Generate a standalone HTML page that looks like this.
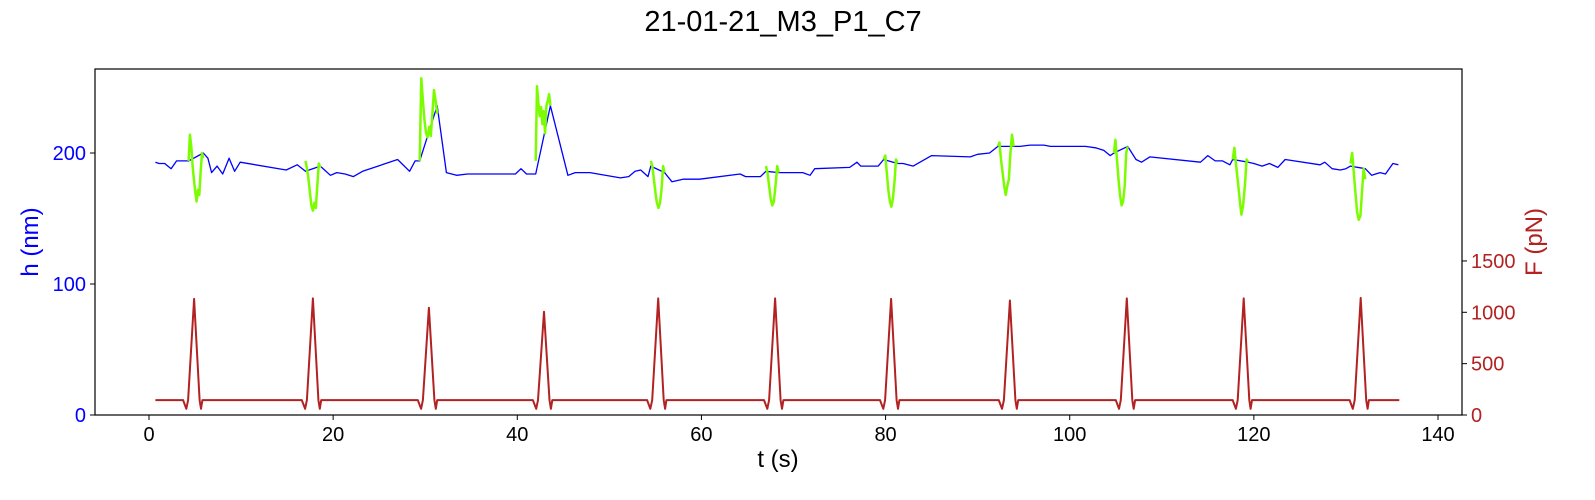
<!DOCTYPE html>
<html><head><meta charset="utf-8"><style>
html,body{margin:0;padding:0;background:#fff;}
svg{display:block;font-family:"Liberation Sans","DejaVu Sans",sans-serif;}
</style></head><body>
<svg id="chart" width="1595" height="500">
<text x="783" y="31" font-size="29" text-anchor="middle">21-01-21_M3_P1_C7</text>
<g id="plot"></g>
<rect x="95" y="69" width="1367" height="346" fill="none" stroke="#000" stroke-width="1.2"/>
<text x="778" y="467" font-size="24" text-anchor="middle">t (s)</text>
<text x="0" y="0" font-size="24" fill="#0000ff" text-anchor="middle" transform="translate(38,242) rotate(-90)">h (nm)</text>
<text x="0" y="0" font-size="24" fill="#b22222" text-anchor="middle" transform="translate(1542,242) rotate(-90)">F (pN)</text>
</svg>
<script>
const xTicks=[0,20,40,60,80,100,120,140];
const hTicks=[0,100,200];
const fTicks=[0,500,1000,1500];
const blueT=[0.7,1.1,1.7,2.4,3.0,4.1,4.3,5.9,6.4,6.8,7.4,8.0,8.7,9.3,9.9,14.9,16.1,17.0,18.6,19.7,20.4,21.3,22.2,23.2,27.0,28.3,28.9,29.4,31.3,32.3,33.4,34.6,39.8,40.4,41.0,42.0,43.6,45.5,46.3,47.9,51.2,52.1,52.8,53.4,54.2,54.5,56.0,56.8,58.0,59.8,64.2,64.8,66.4,67.0,68.4,69.6,71.0,71.8,72.3,76.1,76.9,77.3,79.2,79.8,81.3,81.9,83.0,85.0,89.2,90.0,91.3,92.2,93.9,94.6,95.7,97.2,97.9,101.7,102.8,103.7,104.4,104.8,106.3,107.2,107.8,108.7,114.2,115.0,115.8,116.6,117.4,117.7,119.4,120.0,120.9,121.7,122.6,123.4,127.2,127.7,128.5,129.4,130.0,130.5,132.1,132.8,133.7,134.3,135.1,135.7];
const blueH=[193,192,192,188,194,194,194,200,196,185,190,184,196,186,193,187,191,186,190,183,185,184,182,186,195,186,194,194,236,185,183,184,184,188,184,184,236,183,185,185,181,182,186,187,182,190,185,178,180,180,184,182,182,186,185,185,185,183,188,189,193,190,190,195,192,192,190,198,197,199,200,205,205,205,206,206,205,205,204,202,198,200,205,195,193,197,193,198,194,194,191,195,193,192,190,192,189,195,191,193,188,187,188,190,188,183,185,184,192,191];
const greenEvents=[
 {t0:4.3,t1:5.9,h:[194,214,205,190,180,170,163,172,168,185,200,196]},
 {t0:17.0,t1:18.6,h:[194,188,180,170,160,156,162,158,175,192,189]},
 {t0:29.4,t1:31.3,h:[194,257,240,225,215,212,220,213,230,248,240,230]},
 {t0:42.0,t1:43.6,h:[194,251,238,228,235,222,232,215,236,240,245,236]},
 {t0:54.5,t1:56.0,h:[194,190,180,170,162,158,162,172,190,185]},
 {t0:67.0,t1:68.4,h:[190,185,175,165,160,163,175,190,185]},
 {t0:79.8,t1:81.3,h:[195,198,185,172,163,159,165,178,195,192]},
 {t0:92.2,t1:93.9,h:[205,208,195,185,175,168,175,180,200,214,205]},
 {t0:104.8,t1:106.3,h:[200,210,195,180,168,160,163,175,200,205]},
 {t0:117.7,t1:119.4,h:[195,204,190,178,165,153,160,175,195,193]},
 {t0:130.5,t1:132.1,h:[192,200,185,170,155,149,152,170,188,180]}
];
const peakT=[4.9,17.8,30.4,42.9,55.3,68.0,80.6,93.5,106.2,118.9,131.6];
const peakF=[1130,1135,1045,1005,1135,1135,1130,1115,1135,1135,1140];
const baseF=145, dipF=60, fStart=0.7, fEnd=135.8;

const X0=95,X1=1462,Y0=415,Y1=69;
const xs=t=>149+t*(1438-149)/140;
const yh=h=>Y0-h*1.31;
const yf=f=>Y0-f*0.1027;
const NS='http://www.w3.org/2000/svg';
const svg=document.getElementById('chart'), plot=document.getElementById('plot');
function mk(tag,attrs,parent){const e=document.createElementNS(NS,tag);for(const k in attrs)e.setAttribute(k,attrs[k]);(parent||svg).appendChild(e);return e;}

xTicks.forEach(v=>{
 const l=mk('line',{x1:xs(v),x2:xs(v),y1:Y0,y2:Y0+5,stroke:'#000'});
 
 
 const t=mk('text',{x:xs(v),y:Y0+26,'font-size':20,'text-anchor':'middle'});t.textContent=v;
 
 
});
hTicks.forEach(v=>{
 const l=mk('line',{x1:X0-5,x2:X0,y1:yh(v),y2:yh(v),stroke:'#000'});
 
 
 const t=mk('text',{x:X0-9,y:yh(v)+7,'font-size':20,'text-anchor':'end',fill:'#0000ff'});t.textContent=v;
 
 
});
fTicks.forEach(v=>{
 const l=mk('line',{x1:X1,x2:X1+5,y1:yf(v),y2:yf(v),stroke:'#000'});
 
 
 const t=mk('text',{x:X1+9,y:yf(v)+7,'font-size':20,'text-anchor':'start',fill:'#b22222'});t.textContent=v;
 
 
});

let fp=[[fStart,baseF]];
peakT.forEach((p,i)=>{fp.push([p-1.2,baseF],[p-0.85,dipF],[p-0.65,baseF],[p,peakF[i]],[p+0.6,baseF],[p+0.75,dipF],[p+0.9,baseF]);});
fp.push([fEnd,baseF]);
const fl=mk('polyline',{points:fp.map(p=>xs(p[0]).toFixed(1)+','+yf(p[1]).toFixed(1)).join(' '),fill:'none',stroke:'#b22222','stroke-width':2,'stroke-linejoin':'round'},plot);



const bl=mk('polyline',{points:blueT.map((t,i)=>xs(t).toFixed(1)+','+yh(blueH[i]).toFixed(1)).join(' '),fill:'none',stroke:'#0000ff','stroke-width':1.3,'stroke-linejoin':'round'},plot);



greenEvents.forEach(ev=>{
 const n=ev.h.length;
 const pts=ev.h.map((h,i)=>xs(ev.t0+(ev.t1-ev.t0)*i/(n-1)).toFixed(1)+','+yh(h).toFixed(1)).join(' ');
 const g=mk('polyline',{points:pts,fill:'none',stroke:'#7cfc00','stroke-width':2.5,'stroke-linejoin':'round'},plot);
 
 
});
</script>
</body></html>
